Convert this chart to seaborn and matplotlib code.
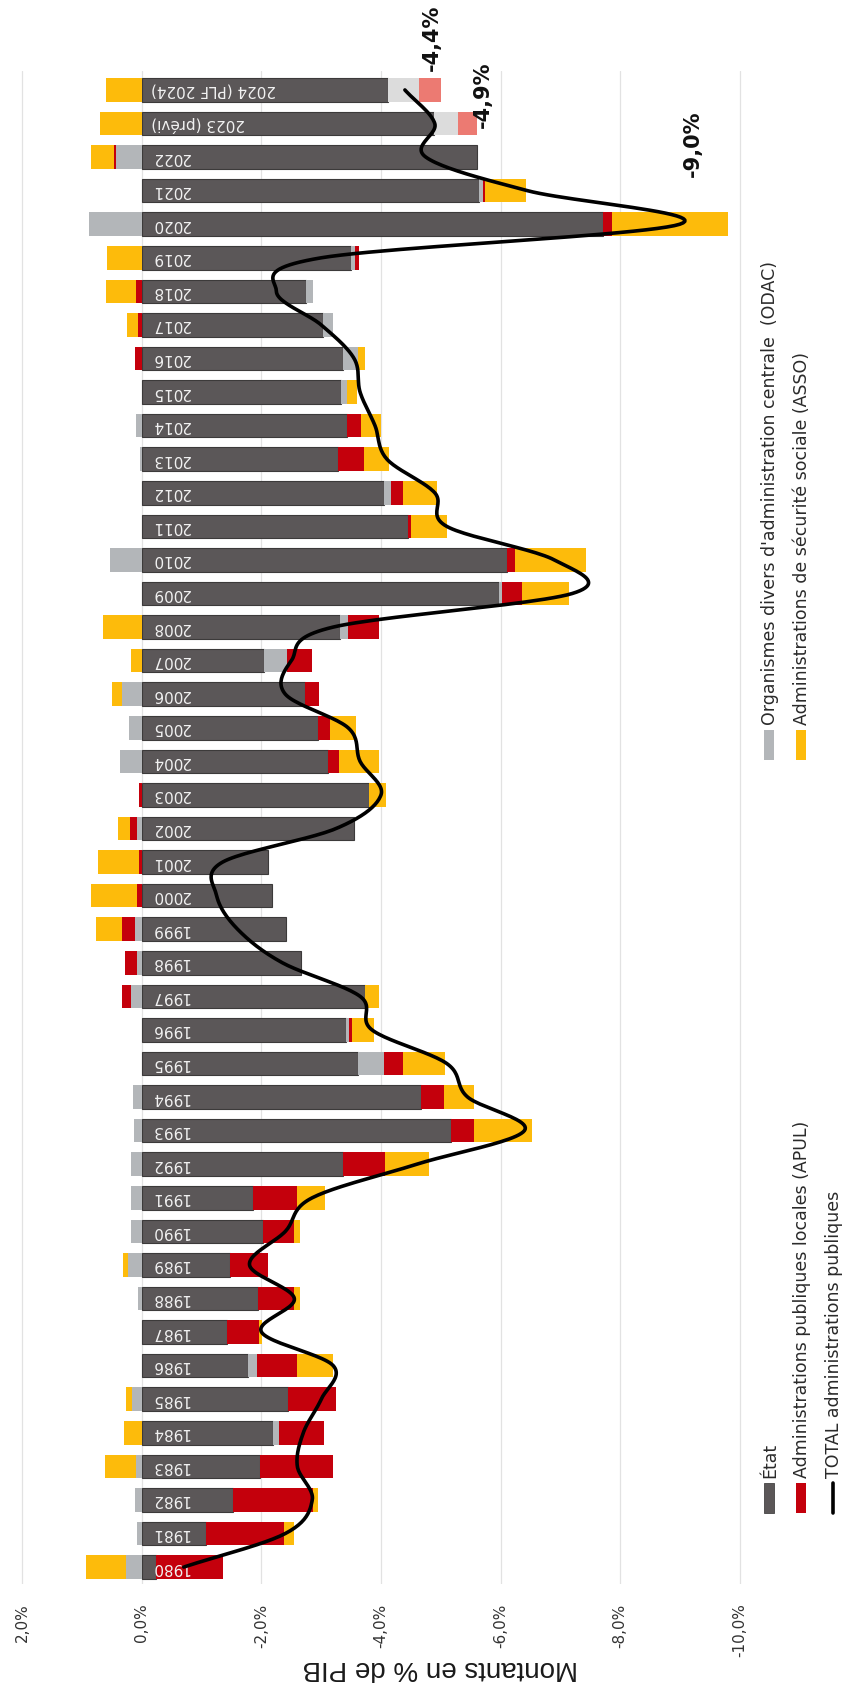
import matplotlib
matplotlib.use("Agg")
import matplotlib.pyplot as plt
from matplotlib.patches import Rectangle
from matplotlib.lines import Line2D
from matplotlib import font_manager
import numpy as np
import pandas as pd
import seaborn as sns

# Soldes par sous-secteur, en % du PIB
years = list(range(1980, 2025))
year_labels = [str(y) for y in range(1980, 2023)] + ["2023 (prévi)", "2024 (PLF 2024)"]

etat = [-0.23, -1.08, -1.52, -1.98, -2.20, -2.45, -1.78, -1.42, -1.95, -1.48,
        -2.03, -1.85, -3.36, -5.17, -4.67, -3.62, -3.41, -3.73, -2.66, -2.41,
        -2.17, -2.11, -3.55, -3.80, -3.12, -2.94, -2.73, -2.04, -3.32, -5.98,
        -6.11, -4.45, -4.05, -3.28, -3.43, -3.33, -3.36, -3.03, -2.75, -3.49,
        -7.71, -5.64, -5.61, -4.89, -4.12]
odac = [0.26, 0.09, 0.11, 0.10, -0.10, 0.17, -0.15, 0.00, 0.06, 0.24,
        0.18, 0.19, 0.19, 0.14, 0.15, -0.43, -0.05, 0.19, 0.08, 0.11,
        0.00, 0.00, 0.09, 0.00, 0.36, 0.22, 0.33, -0.38, -0.13, -0.05,
        0.54, 0.00, -0.11, 0.04, 0.10, -0.10, -0.26, -0.17, -0.11, -0.07,
        0.89, -0.06, 0.43, -0.40, -0.52]
apul = [-1.12, -1.30, -1.34, -1.21, -0.75, -0.79, -0.67, -0.54, -0.60, -0.63,
        -0.51, -0.74, -0.70, -0.38, -0.39, -0.32, -0.05, 0.14, 0.21, 0.23,
        0.08, 0.05, 0.11, 0.05, -0.18, -0.21, -0.23, -0.42, -0.51, -0.33,
        -0.13, -0.06, -0.20, -0.43, -0.23, 0.00, 0.12, 0.06, 0.10, -0.08,
        -0.15, -0.04, 0.04, -0.32, -0.36]
asso = [0.68, -0.16, -0.09, 0.52, 0.30, 0.10, -0.59, -0.05, -0.09, 0.08,
        -0.10, -0.47, -0.75, -0.98, -0.50, -0.70, -0.38, -0.23, 0.00, 0.43,
        0.78, 0.68, 0.20, -0.28, -0.66, -0.43, 0.17, 0.19, 0.66, -0.78,
        -1.19, -0.60, -0.57, -0.42, -0.34, -0.17, -0.11, 0.19, 0.51, 0.58,
        -1.95, -0.69, 0.39, 0.70, 0.60]
total = [-0.70, -2.40, -2.85, -2.60, -2.70, -3.00, -3.20, -2.00, -2.55, -1.80,
         -2.40, -2.85, -4.60, -6.40, -5.45, -5.10, -3.85, -3.65, -2.35, -1.60,
         -1.25, -1.35, -3.25, -4.00, -3.65, -3.45, -2.40, -2.50, -3.20, -7.20,
         -6.90, -5.10, -4.90, -4.10, -3.90, -3.65, -3.55, -3.00, -2.25, -3.00,
         -9.00, -6.45, -4.75, -4.90, -4.40]
forecast_years = [2023, 2024]

x_ticks = [2, 0, -2, -4, -6, -8, -10]
x_ticklabels = ["2,0%", "0,0%", "-2,0%", "-4,0%", "-6,0%", "-8,0%", "-10,0%"]

annotations = ["-4,4%", "-4,9%", "-9,0%"]
annotation_pos = [(-4.85, 2025.55), (-5.71, 2023.85), (-9.22, 2022.4)]

series = ["État", "Organismes divers d'administration centrale  (ODAC)",
          "Administrations publiques locales (APUL)",
          "Administrations de sécurité sociale (ASSO)"]
colors = ["#5b5758", "#b3b6b9", "#c4000c", "#fdbb0b"]
forecast_colors = ["#5b5758", "#dcdcdc", "#ec7a72", "#fdbb0b"]

sns.set_style("white")
plt.rcParams["font.family"] = ["DejaVu Sans"]

names = {f.name for f in font_manager.fontManager.ttflist}
narrow = "Liberation Sans Narrow" if "Liberation Sans Narrow" in names else "Liberation Sans"

W, H = 849, 1686
fig = plt.figure(figsize=(W / 100, H / 100), dpi=100)
ax = fig.add_axes([0.0194, 0.0606, 0.8587, 0.897])

df = pd.DataFrame({"annee": years, "etat": etat, "odac": odac, "apul": apul, "asso": asso})

pos_base = np.zeros(len(years))
neg_base = np.zeros(len(years))
for i, col in enumerate(["etat", "odac", "apul", "asso"]):
    vals = df[col].to_numpy()
    left = np.where(vals >= 0, pos_base, neg_base)
    cols = [forecast_colors[i] if y in forecast_years else colors[i] for y in years]
    ax.barh(df["annee"], vals, left=left, height=0.70, color=cols,
            edgecolor="#3c3a3a" if col == "etat" else "none",
            linewidth=0.8 if col == "etat" else 0, zorder=2)
    pos_base = pos_base + np.where(vals >= 0, vals, 0)
    neg_base = neg_base + np.where(vals < 0, vals, 0)

# year labels inside the bars (upside down, as in the rotated original)
for y, lab in zip(years, year_labels):
    ax.text(-0.15, y, lab, rotation=180, ha="left", va="center",
            color="#f2f2f2", fontsize=11, zorder=4)


def smooth(xv, yv, n=24):
    xv = np.asarray(xv, float)
    yv = np.asarray(yv, float)
    px = np.concatenate([[2 * xv[0] - xv[1]], xv, [2 * xv[-1] - xv[-2]]])
    py = np.concatenate([[2 * yv[0] - yv[1]], yv, [2 * yv[-1] - yv[-2]]])
    t = np.linspace(0, 1, n, endpoint=False)
    ox, oy = [], []
    for i in range(1, len(px) - 2):
        for p, o in ((px, ox), (py, oy)):
            p0, p1, p2, p3 = p[i - 1], p[i], p[i + 1], p[i + 2]
            o.extend(0.5 * (2 * p1 + (-p0 + p2) * t + (2 * p0 - 5 * p1 + 4 * p2 - p3) * t ** 2
                            + (-p0 + 3 * p1 - 3 * p2 + p3) * t ** 3))
    ox.append(xv[-1])
    oy.append(yv[-1])
    return np.array(ox), np.array(oy)


lx, ly = smooth(total, years)
line_df = pd.DataFrame({"solde": lx, "annee": ly})
sns.lineplot(data=line_df, x="solde", y="annee", sort=False, estimator=None,
             color="black", linewidth=2.6, ax=ax, zorder=5)

for txt, (xv, yv) in zip(annotations, annotation_pos):
    ax.text(xv, yv, txt, rotation=90, ha="center", va="center", fontsize=15,
            fontweight="bold", color="#111111", zorder=6, clip_on=False)

ax.set_xlim(2.1, -10.1)
ax.set_ylim(1979.5, 2024.55)
ax.set_xticks(x_ticks)
ax.set_xticklabels(x_ticklabels, rotation=90, fontsize=11, color="#333333")
ax.tick_params(axis="x", length=0, pad=14)
ax.set_yticks([])
ax.set_xlabel("")
ax.set_ylabel("")
ax.grid(axis="x", color="#e2e2e2", linewidth=0.9, zorder=0)
ax.grid(axis="y", visible=False)
for s in ax.spines.values():
    s.set_visible(False)

fig.text(440 / W, 1 - 1668 / H, "Montants en % de PIB", rotation=180, ha="center",
         va="center", fontsize=20, family=narrow, color="#1a1a1a")

# legend (rotated, drawn by hand)
legend_items = [
    ("rect", colors[0], series[0], 769, 1513),
    ("rect", colors[2], series[2], 801, 1513),
    ("line", "black", "TOTAL administrations publiques", 833, 1513),
    ("rect", colors[1], series[1], 769, 760),
    ("rect", colors[3], series[3], 801, 760),
]
for kind, c, lab, px, py in legend_items:
    if kind == "rect":
        fig.patches.append(Rectangle(((px - 5) / W, 1 - py / H), 10 / W, 30 / H,
                                     transform=fig.transFigure, facecolor=c,
                                     edgecolor="#444444" if c == colors[0] else "none",
                                     linewidth=0.6))
    else:
        fig.lines.append(Line2D([px / W, px / W], [1 - py / H, 1 - (py - 30) / H],
                                transform=fig.transFigure, color=c, linewidth=2.6))
    fig.text((px + 1) / W, 1 - (py - 35) / H, lab, rotation=90, ha="center", va="bottom",
             fontsize=12.5, color="#2a2a2a")

fig.savefig("out.png", dpi=100)
